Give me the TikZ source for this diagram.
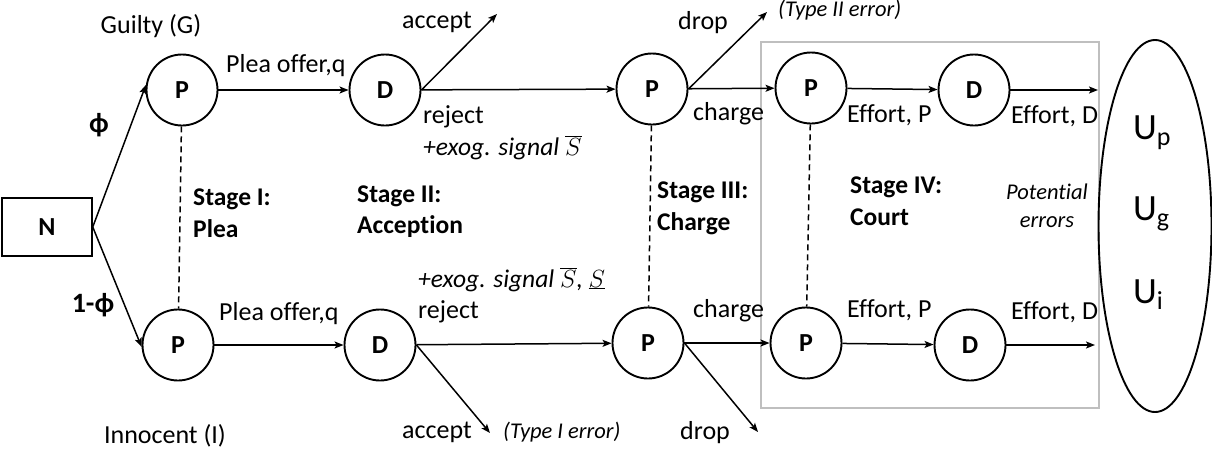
\documentclass[tikz,border=0pt]{standalone}
\usepackage{fontspec}
\setmainfont{Carlito}[Ligatures=NoCommon]
\usetikzlibrary{arrows.meta,shapes.geometric}
\begin{document}
\begin{tikzpicture}[x=1pt,y=-1pt,
  player/.style={circle,draw,line width=1.9pt,minimum size=71pt,inner sep=0pt,
    font=\bfseries\fontsize{26}{26}\selectfont},
  lbl/.style={inner sep=0pt,font=\fontsize{26}{30}\selectfont},
  blbl/.style={inner sep=0pt,font=\bfseries\fontsize{25.5}{32}\selectfont,align=left},
  ilbl/.style={inner sep=0pt,font=\itshape\fontsize{25.5}{30}\selectfont},
  slbl/.style={inner sep=0pt,font=\itshape\fontsize{22.5}{28}\selectfont},
  ulbl/.style={inner sep=0pt,font=\fontsize{37}{37}\selectfont},
  move/.style={line width=1.5pt,-{Stealth[length=9pt,width=7pt,inset=2pt]}},
  infoset/.style={line width=1.5pt,dash pattern=on 6pt off 4pt},
]
\useasboundingbox (0,0) rectangle (1212,450);

% stage IV frame and payoff ellipse
\node[draw=black!25,line width=1.2pt,minimum width=338pt,minimum height=366pt,inner sep=0pt]
  (court) at (930,225) {};
\node[ellipse,draw,line width=1.9pt,minimum width=113pt,minimum height=372pt,inner sep=0pt]
  (payoff) at (1155,226) {};

% nature
\node[draw,line width=1.5pt,minimum width=90pt,minimum height=58pt,inner sep=0pt,
  font=\bfseries\fontsize{26}{26}\selectfont] (N) at (47,227) {N};

% decision nodes
\node[player] (P1t) at (182,90) {P};
\node[player] (P1b) at (178,345) {P};
\node[player] (D1t) at (385,90) {D};
\node[player] (D1b) at (380,345) {D};
\node[player] (P2t) at (652,89) {P};
\node[player] (P2b) at (648,343) {P};
\node[player] (P3t) at (811,88) {P};
\node[player] (D3t) at (974,90) {D};
\node[player] (P3b) at (806,343) {P};
\node[player] (D3b) at (970,345) {D};

% free ends of terminal moves
\coordinate (accTend) at (497,14);
\coordinate (dropTend) at (767,12);
\coordinate (accBend) at (490,433);
\coordinate (dropBend) at (758,432);
\coordinate (outT) at (1098,90);
\coordinate (outB) at (1095,345);

% moves
\draw[move] (N.east) -- (P1t.172);
\draw[move] (N.east) -- (P1b.183);
\draw[move] (P1t) -- (D1t);
\draw[move] (P1b) -- (D1b);
\draw[move] (D1t.east) -- (accTend);
\draw[move] (D1t) -- (P2t);
\draw[move] (D1b.east) -- (accBend);
\draw[move] (D1b) -- (P2b);
\draw[move] (P2t.east) -- (dropTend);
\draw[move] (P2t) -- (P3t);
\draw[move] (P2b.east) -- (dropBend);
\draw[move] (P2b) -- (P3b);
\draw[move] (P3t) -- (D3t);
\draw[move] (P3b) -- (D3b);
\draw[move] (D3t.east) -- (outT);
\draw[move] (D3b.east) -- (outB);

% information sets
\draw[infoset] (P1t) -- (P1b);
\draw[infoset] (P2t) -- (P2b);
\draw[infoset] (P3t) -- (P3b);

% labels
\node[lbl,anchor=base] (guilty) at (151,33) {Guilty (G)};
\node[lbl,anchor=base] (innocent) at (165,443) {Innocent (I)};
\node[blbl,font=\bfseries\fontsize{28}{32}\selectfont] (phi) at (99,125) {ϕ};
\node[blbl,font=\bfseries\fontsize{28}{32}\selectfont] (onephi) at (93,305) {1-ϕ};

\node[lbl,anchor=base west] (offerT) at (226,72) {Plea offer,q};
\node[lbl,anchor=base west] (offerB) at (219,320) {Plea offer,q};
\node[lbl,anchor=base west] (accT) at (402,28) {accept};
\node[lbl,anchor=base west] (rejT) at (423,123) {reject};
\node[ilbl,anchor=base west] (sigT) at (423,155) {+exog. signal $\overline{S}$};
\node[lbl,anchor=base west] (dropT) at (678,29) {drop};
\node[slbl,anchor=base west] (typeII) at (778,16) {(Type II error)};
\node[lbl,anchor=base west] (chT) at (693,120) {charge};
\node[lbl,anchor=base west] (efPT) at (847,122) {Effort, P};
\node[lbl,anchor=base west] (efDT) at (1011,123) {Effort, D};

\node[ilbl,anchor=base west] (sigB) at (418,287) {+exog. signal $\overline{S}$, $\underline{S}$};
\node[lbl,anchor=base west] (rejB) at (418,318) {reject};
\node[lbl,anchor=base west] (chB) at (693,317) {charge};
\node[lbl,anchor=base west] (accB) at (402,438) {accept};
\node[slbl,anchor=base west] (typeI) at (503,438) {(Type I error)};
\node[lbl,anchor=base west] (dropB) at (680,439) {drop};
\node[lbl,anchor=base west] (efPB) at (847,317) {Effort, P};
\node[lbl,anchor=base west] (efDB) at (1011,319) {Effort, D};

% stage titles
\node[blbl,anchor=base west] (st1a) at (193,205) {Stage I:};
\node[blbl,anchor=base west] (st1b) at (193,237) {Plea};
\node[blbl,anchor=base west] (st2a) at (357,202) {Stage II:};
\node[blbl,anchor=base west] (st2b) at (357,233) {Acception};
\node[blbl,anchor=base west] (st3a) at (657,198) {Stage III:};
\node[blbl,anchor=base west] (st3b) at (657,230) {Charge};
\node[blbl,anchor=base west] (st4a) at (850,193) {Stage IV:};
\node[blbl,anchor=base west] (st4b) at (850,225) {Court};
\node[slbl,anchor=base] (pot1) at (1047,199) {Potential};
\node[slbl,anchor=base] (pot2) at (1047,227) {errors};

% payoffs
\node[ulbl,anchor=base west] (Up) at (1133,139) {U\raisebox{-6pt}{\fontsize{26}{26}\selectfont p}};
\node[ulbl,anchor=base west] (Ug) at (1133,220) {U\raisebox{-6pt}{\fontsize{26}{26}\selectfont g}};
\node[ulbl,anchor=base west] (Ui) at (1133,303) {U\raisebox{-6pt}{\fontsize{26}{26}\selectfont i}};
\end{tikzpicture}
\end{document}
